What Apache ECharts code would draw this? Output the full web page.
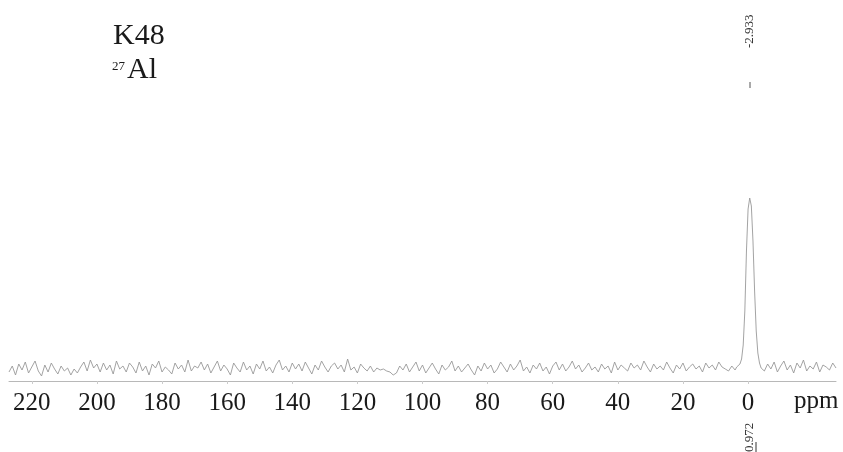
<!DOCTYPE html>
<html>
<head>
<meta charset="utf-8">
<script src="https://cdn.jsdelivr.net/npm/echarts@6/dist/echarts.min.js"></script>
<style>html,body{margin:0;padding:0;background:#fff;}#c{width:843px;height:452px;}</style>
</head>
<body>
<div id="c"></div>
<script>
// Tick labels on the chemical shift axis (ppm)
const tickValues = [220, 200, 180, 160, 140, 120, 100, 80, 60, 40, 20, 0];
// Noise, one value per ppm from 227 down to 5 ppm
const noiseLeftStart = 227;
const noiseLeft = [
  9,15,6,17,11,19,8,14,20,10,
  5,16,9,18,12,7,15,10,13,6,
  12,8,14,19,10,21,13,17,9,18,
  11,16,7,20,12,15,9,18,14,8,
  19,10,15,6,17,13,20,9,14,11,
  7,18,12,16,9,21,10,15,13,19,
  11,17,8,14,20,10,16,12,6,18,
  13,9,19,11,15,7,17,12,20,10,
  14,8,16,21,11,15,9,18,12,17,
  10,19,13,7,16,11,20,14,9,15,
  18,12,16,9,22,11,14,8,17,13,
  10,15,9,13,11,12,10,9,6,8,
  15,11,17,9,14,19,10,16,8,13,
  18,12,7,16,11,14,20,10,15,9,
  13,17,11,6,15,10,18,12,16,8,
  12,19,14,9,17,11,15,21,10,14,
  8,16,12,18,10,14,7,15,19,11,
  17,10,14,20,12,16,9,13,18,11,
  14,9,17,12,15,8,19,11,16,13,
  10,18,13,16,11,20,14,9,17,12,
  15,11,19,13,8,16,12,18,10,14,
  17,12,15,9,18,13,16,11,19,14,
  12,10,15
];
// Peak region (ppm, intensity)
const peakPpm = [4, 3.5, 3, 2.5, 2, 1.5, 1, 0.5, 0, -0.5, -1, -1.5, -2, -2.5, -3, -3.5, -4];
const peakVal = [11, 14, 12, 17, 22, 36, 70, 130, 172, 183, 175, 140, 90, 50, 28, 18, 13];
// Noise from -5 ppm down to -27 ppm, one value per ppm
const noiseRightStart = -5;
const noiseRight = [10,17,12,19,9,15,20,11,16,8,18,13,21,10,15,12,19,9,16,14,11,18,13];

const data = [];
noiseLeft.forEach((v, i) => data.push([noiseLeftStart - i, v]));
peakPpm.forEach((p, i) => data.push([p, peakVal[i]]));
noiseRight.forEach((v, i) => data.push([noiseRightStart - i, v]));

const chart = echarts.init(document.getElementById('c'));
const serif = '"Liberation Serif", "DejaVu Serif", serif';
chart.setOption({
  animation: false,
  backgroundColor: '#ffffff',
  grid: { left: 9, right: 7, top: 0, bottom: 71, containLabel: false },
  xAxis: {
    type: 'value', inverse: true, min: -27, max: 227,
    axisLine: { show: true, lineStyle: { color: '#b8b8b8', width: 1 } },
    axisTick: { show: true, length: 3, inside: false, customValues: tickValues, lineStyle: { color: '#cccccc' } },
    axisLabel: { customValues: tickValues, margin: 10, color: '#1a1a1a', fontFamily: serif, fontSize: 25 },
    splitLine: { show: false }
  },
  yAxis: { type: 'value', min: 0, max: 381, show: false },
  series: [{
    type: 'line', data: data, showSymbol: false, smooth: false,
    lineStyle: { color: '#999999', width: 0.9 }
  }],
  graphic: [
    { type: 'text', left: 113, top: 21, style: { text: 'K48', font: '30px ' + serif, fill: '#1a1a1a' } },
    { type: 'text', left: 112, top: 60, style: { text: '27', font: '13px ' + serif, fill: '#1a1a1a' } },
    { type: 'text', left: 127, top: 55, style: { text: 'Al', font: '30px ' + serif, fill: '#1a1a1a' } },
    { type: 'text', x: 750, y: 48, rotation: Math.PI / 2, style: { text: '-2.933', font: '13px ' + serif, fill: '#333', align: 'left', verticalAlign: 'middle' } },
    { type: 'line', shape: { x1: 750, y1: 82, x2: 750, y2: 88 }, style: { stroke: '#555', lineWidth: 1 } },
    { type: 'text', x: 750, y: 452, rotation: Math.PI / 2, style: { text: '0.972', font: '13px ' + serif, fill: '#333', align: 'left', verticalAlign: 'middle' } },
    { type: 'line', shape: { x1: 756, y1: 442, x2: 756, y2: 452 }, style: { stroke: '#333', lineWidth: 1 } },
    { type: 'text', left: 794, top: 389, style: { text: 'ppm', font: '25px ' + serif, fill: '#1a1a1a' } }
  ]
});
</script>
</body>
</html>
